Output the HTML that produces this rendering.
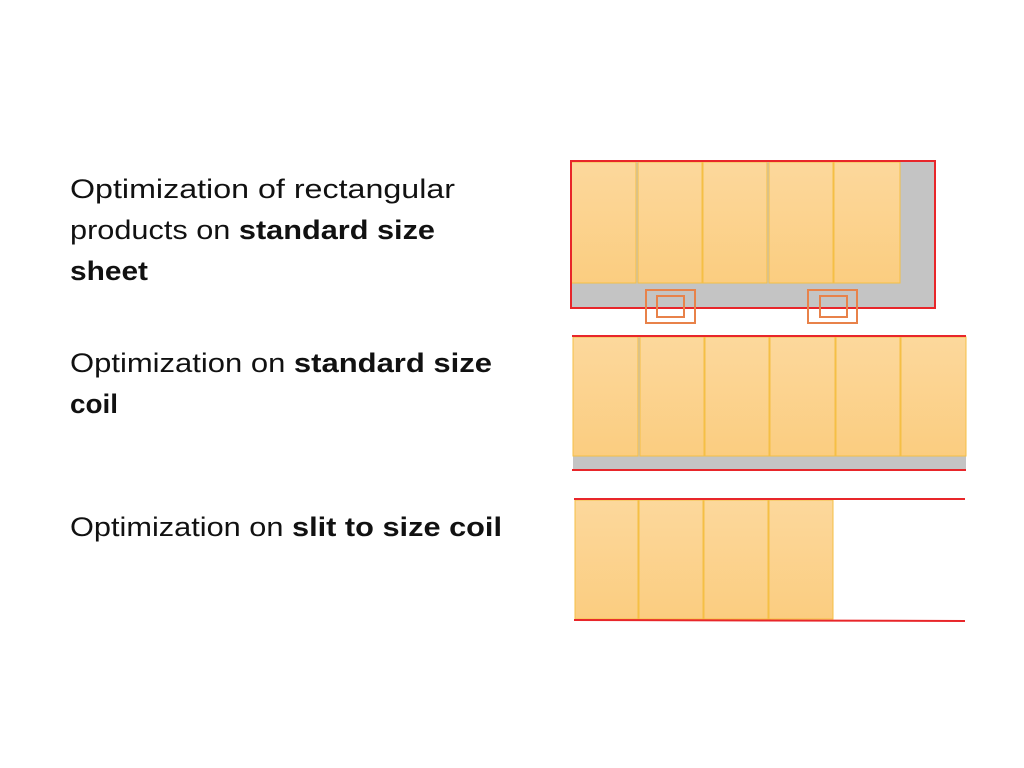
<!DOCTYPE html>
<html><head><meta charset="utf-8"><style>html,body{margin:0;padding:0;background:#fff;}</style></head>
<body>
<svg width="1024" height="768" xmlns="http://www.w3.org/2000/svg" style="display:block">
<defs>
<linearGradient id="g" x1="0" y1="0" x2="0" y2="1">
<stop offset="0" stop-color="#fcd89c"/><stop offset="1" stop-color="#fbcd80"/>
</linearGradient>
</defs>
<g font-family="Liberation Sans, sans-serif" font-size="27" fill="#111">
<text x="70" y="198" textLength="385" lengthAdjust="spacingAndGlyphs">Optimization of rectangular</text>
<text x="70" y="239" textLength="365" lengthAdjust="spacingAndGlyphs">products on <tspan font-weight="bold">standard size</tspan></text>
<text x="70" y="280" textLength="78" lengthAdjust="spacingAndGlyphs" font-weight="bold">sheet</text>
<text x="70" y="372" textLength="422" lengthAdjust="spacingAndGlyphs">Optimization on <tspan font-weight="bold">standard size</tspan></text>
<text x="70" y="413" textLength="48" lengthAdjust="spacingAndGlyphs" font-weight="bold">coil</text>
<text x="70" y="536" textLength="432" lengthAdjust="spacingAndGlyphs">Optimization on <tspan font-weight="bold">slit to size coil</tspan></text>
</g>
<!-- sheet -->
<rect x="571" y="161" width="364" height="147" fill="#c4c4c4"/>
<g fill="url(#g)" stroke="#f5bf45" stroke-width="1">
<rect x="571" y="162" width="65" height="121"/>
<rect x="638" y="162" width="64" height="121"/>
<rect x="703" y="162" width="64" height="121"/>
<rect x="769" y="162" width="64" height="121"/>
<rect x="834" y="162" width="66" height="121"/>
</g>
<rect x="571" y="161" width="364" height="147" fill="none" stroke="#e8262a" stroke-width="2"/>
<g fill="none" stroke="#e8824a" stroke-width="2">
<rect x="646" y="290" width="49" height="33"/><rect x="657" y="296" width="27" height="21"/>
<rect x="808" y="290" width="49" height="33"/><rect x="820" y="296" width="27" height="21"/>
</g>
<!-- coil -->
<rect x="573" y="337" width="393" height="133" fill="#c4c4c4"/>
<g fill="url(#g)" stroke="#f5bf45" stroke-width="1">
<rect x="573" y="337" width="65" height="119"/>
<rect x="640" y="337" width="64" height="119"/>
<rect x="705" y="337" width="64" height="119"/>
<rect x="770" y="337" width="65" height="119"/>
<rect x="836" y="337" width="64" height="119"/>
<rect x="901" y="337" width="65" height="119"/>
</g>
<line x1="572" y1="336" x2="966" y2="336" stroke="#e8262a" stroke-width="2"/>
<line x1="572" y1="470" x2="966" y2="470" stroke="#e8262a" stroke-width="2"/>
<!-- slit -->
<g fill="url(#g)" stroke="#f5bf45" stroke-width="1">
<rect x="575" y="500" width="63" height="119"/>
<rect x="639" y="500" width="64" height="119"/>
<rect x="704" y="500" width="64" height="119"/>
<rect x="769" y="500" width="64" height="119"/>
</g>
<line x1="574" y1="499" x2="965" y2="499" stroke="#e8262a" stroke-width="2"/>
<line x1="574" y1="620" x2="965" y2="621" stroke="#e8262a" stroke-width="2"/>
</svg>
</body></html>
